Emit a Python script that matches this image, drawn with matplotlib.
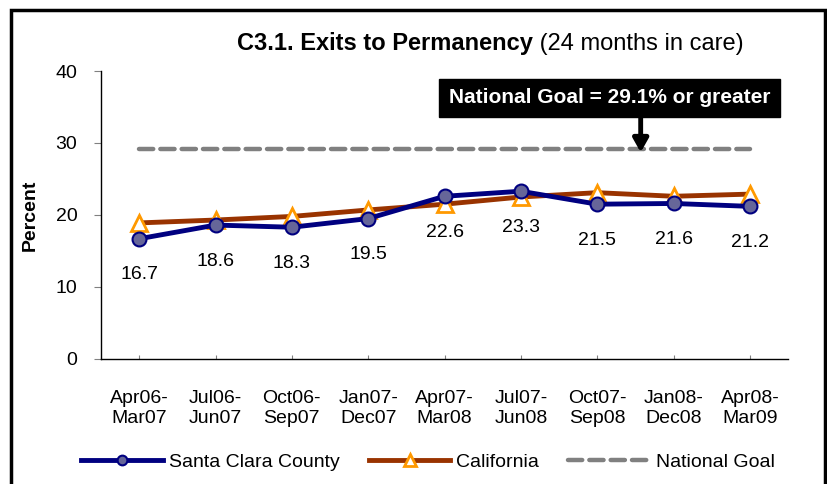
import matplotlib
matplotlib.use("Agg")
import matplotlib.pyplot as plt
from matplotlib.patches import Rectangle

plt.rcParams["font.family"] = ["Liberation Sans", "DejaVu Sans"]

periods = ["Apr06-\nMar07", "Jul06-\nJun07", "Oct06-\nSep07", "Jan07-\nDec07",
           "Apr07-\nMar08", "Jul07-\nJun08", "Oct07-\nSep08", "Jan08-\nDec08",
           "Apr08-\nMar09"]
santa_clara = [16.7, 18.6, 18.3, 19.5, 22.6, 23.3, 21.5, 21.6, 21.2]
california = [18.9, 19.3, 19.8, 20.7, 21.5, 22.5, 23.1, 22.6, 22.9]
national_goal = 29.1
y_ticks = [0, 10, 20, 30, 40]

x = list(range(len(periods)))

fig = plt.figure(figsize=(8.28, 4.84), dpi=100)
ax = fig.add_axes([0.122, 0.2583, 0.8297, 0.595])

ax.plot(x, [national_goal] * len(x), color="#808080", lw=3.2,
        linestyle=(0, (3.2, 1.6)), dash_capstyle="round",
        label="National Goal", zorder=2)
ax.plot(x, california, color="#993300", lw=3.5, marker="^", ms=12,
        mfc="white", mec="#FF9900", mew=2, label="California", zorder=3)
ax.plot(x, santa_clara, color="#000080", lw=3.5, marker="o", ms=10,
        mfc="#666699", mec="#000080", mew=1.5, label="Santa Clara County",
        zorder=4)

# value labels under the county line
for xi, v in zip(x, santa_clara):
    ax.annotate(f"{v:.1f}", (xi, v), xytext=(0, -26), textcoords="offset points",
                ha="center", va="center", fontsize=14)

ax.set_xlim(-0.5, len(x) - 0.5)
ax.set_ylim(0, 40)
ax.set_yticks(y_ticks)
ax.set_xticks(x)
ax.set_xticklabels(periods, fontsize=14, linespacing=1.3)
ax.tick_params(axis="y", labelsize=14, length=5, color="#808080", pad=12)
ax.tick_params(axis="x", direction="in", length=3, color="#808080", pad=22)
for s in ["top", "right"]:
    ax.spines[s].set_visible(False)
ax.spines["left"].set_linewidth(1)
ax.spines["bottom"].set_linewidth(1)
ax.set_ylabel("Percent", fontsize=14, fontweight="bold", labelpad=12)

# national goal callout
ax.annotate("", xy=(6.57, 28.7), xytext=(6.57, 33.8),
            arrowprops=dict(arrowstyle="-|>,head_length=0.8,head_width=0.45",
                            color="black", lw=3.5, shrinkA=0, shrinkB=0))
ax.text(6.16, 36.3, "National Goal = 29.1% or greater", ha="center", va="center",
        fontsize=15, fontweight="bold", color="white",
        bbox=dict(boxstyle="square,pad=0.45", fc="black", ec="black"))

# title: bold part + regular part
t1 = fig.text(0.286, 0.91, "C3.1. Exits to Permanency", fontsize=17,
              fontweight="bold", va="center", ha="left")
fig.canvas.draw()
bb = t1.get_window_extent()
fig.text(bb.x1 / fig.bbox.width, 0.91, " (24 months in care)", fontsize=17,
         va="center", ha="left")

handles, labels = ax.get_legend_handles_labels()
order = [2, 1, 0]
fig.legend([handles[i] for i in order], [labels[i] for i in order],
           loc="center", bbox_to_anchor=(0.517, 0.045), ncol=3, frameon=False,
           fontsize=14, handlelength=4.2, columnspacing=1.5, handletextpad=0.3,
           markerscale=0.7)

fig.add_artist(Rectangle((11 / 828, -0.1), 814 / 828, 1.1 - 10 / 484,
                         transform=fig.transFigure, fill=False, ec="black", lw=2.5))

fig.savefig("out.png", dpi=100)
